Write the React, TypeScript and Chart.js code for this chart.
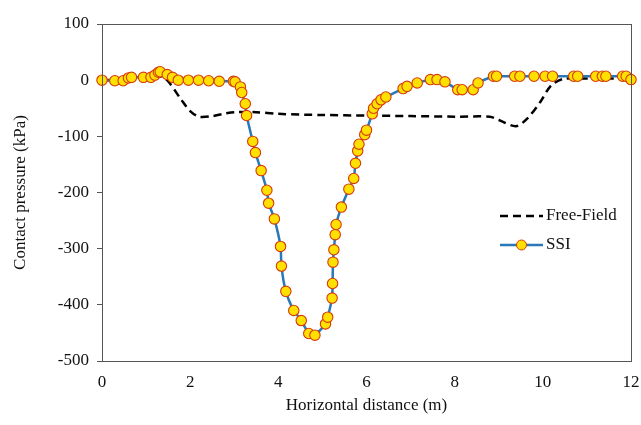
import React, { useEffect, useRef } from "react";
import { Chart, registerables } from "chart.js";

Chart.register(...registerables);

const xTickValues = [0, 2, 4, 6, 8, 10, 12];
const yTickValues = [100, 0, -100, -200, -300, -400, -500];

const ssiX = [
  0, 0.29, 0.48, 0.6, 0.67, 0.94, 1.11, 1.2, 1.28, 1.32, 1.48, 1.6, 1.73, 1.96, 2.19, 2.42, 2.66, 2.98, 3.02,
  3.14, 3.17, 3.25, 3.28, 3.42, 3.48, 3.61, 3.74, 3.78, 3.91, 4.05, 4.07, 4.17, 4.35, 4.52, 4.69, 4.83,
  5.07, 5.12, 5.22, 5.23, 5.24, 5.26, 5.29, 5.31, 5.43, 5.6, 5.71, 5.75, 5.8, 5.83, 5.96, 6.0, 6.13, 6.16,
  6.24, 6.33, 6.44, 6.83, 6.92, 7.15, 7.45, 7.6, 7.78, 8.07, 8.17, 8.42, 8.53, 8.88, 8.95, 9.36, 9.48, 9.8,
  10.05, 10.22, 10.7, 10.79, 11.2, 11.35, 11.43, 11.81, 11.89, 12.0,
];
const ssiY = [
  0, -1, -1, 4, 5, 5, 5, 9, 14, 15, 10, 5, 0, 0, 0, -1, -2, -2, -3,
  -12, -22, -42, -63, -109, -129, -161, -196, -219, -247, -296, -331, -376, -410, -428, -451, -454,
  -434, -422, -388, -362, -324, -302, -275, -257, -226, -194, -175, -148, -126, -114, -97, -89, -60, -50,
  -42, -35, -30, -15, -11, -5, 1, 1, -3, -17, -17, -17, -5, 7, 7, 7, 7, 7,
  7, 7, 7, 7, 7, 7, 7, 7, 7, 1,
];

const ffX = [0, 0.5, 0.9, 1.2, 1.35, 1.5, 1.8, 2.0, 2.2, 2.5, 2.75, 3.0, 3.5, 4.0, 5.0, 6.0, 7.0, 8.0, 8.8, 9.0, 9.39, 9.65, 9.95, 10.18, 10.45, 10.9, 11.5, 12.0];
const ffY = [0, 1, 2, 5, 6, -2, -35, -55, -65, -64, -60, -57, -57, -60, -62, -63, -64, -65, -65, -71, -82, -68, -38, -10, 2, 3, 3, 3];

const seriesNames = ["Free-Field", "SSI"];

const FONT = '"Liberation Serif", "Times New Roman", serif';
const BLUE = "#2A78B8";
const MARK_FILL = "#FFE000";
const MARK_EDGE = "#D63A0A";
const AXIS = "#555555";

const framePlugin = {
  id: "frame",
  afterDatasetsDraw(chart: any) {
    const { ctx, chartArea } = chart;
    ctx.save();
    ctx.strokeStyle = AXIS;
    ctx.lineWidth = 1;
    ctx.strokeRect(chartArea.left + 0.5, chartArea.top + 0.5, chartArea.right - chartArea.left, chartArea.bottom - chartArea.top);
    ctx.restore();
  },
  afterDraw(chart: any) {
    const { ctx, chartArea } = chart;
    const x0 = chartArea.right - 131;
    const x1 = chartArea.right - 88;
    const tx = chartArea.right - 85;
    const y1 = 216;
    const y2 = 245;
    ctx.save();
    ctx.font = `17px ${FONT}`;
    ctx.textBaseline = "middle";
    ctx.textAlign = "left";
    // Free-Field
    ctx.strokeStyle = "#000";
    ctx.lineWidth = 2.5;
    ctx.setLineDash([8, 5]);
    ctx.beginPath();
    ctx.moveTo(x0, y1);
    ctx.lineTo(x1, y1);
    ctx.stroke();
    ctx.setLineDash([]);
    ctx.fillStyle = "#111";
    ctx.fillText(seriesNames[0], tx, y1);
    // SSI
    ctx.strokeStyle = BLUE;
    ctx.lineWidth = 2.5;
    ctx.beginPath();
    ctx.moveTo(x0, y2);
    ctx.lineTo(x1, y2);
    ctx.stroke();
    ctx.beginPath();
    ctx.arc((x0 + x1) / 2, y2, 5, 0, Math.PI * 2);
    ctx.fillStyle = MARK_FILL;
    ctx.fill();
    ctx.lineWidth = 1;
    ctx.strokeStyle = MARK_EDGE;
    ctx.stroke();
    ctx.fillStyle = "#111";
    ctx.fillText(seriesNames[1], tx, y2);
    ctx.restore();
  },
};

export default function App() {
  const ref = useRef<HTMLCanvasElement | null>(null);

  useEffect(() => {
    document.body.style.margin = "0";
    if (!ref.current) return;
    const ffData = ffX.map((x, i) => ({ x, y: ffY[i] }));
    const ssiData = ssiX.map((x, i) => ({ x, y: ssiY[i] }));
    const chart = new Chart(ref.current, {
      type: "scatter",
      data: {
        datasets: [
          {
            label: seriesNames[0],
            data: ffData,
            showLine: true,
            borderColor: "#000",
            borderWidth: 2.5,
            borderDash: [8, 5],
            pointRadius: 0,
            tension: 0.3,
            clip: false,
            order: 2,
          } as any,
          {
            label: seriesNames[1],
            data: ssiData,
            showLine: true,
            borderColor: BLUE,
            borderWidth: 2.5,
            pointRadius: 5.2,
            pointBackgroundColor: MARK_FILL,
            pointBorderColor: MARK_EDGE,
            pointBorderWidth: 1.1,
            tension: 0.2,
            clip: false,
            order: 1,
          } as any,
        ],
      },
      options: {
        responsive: false,
        animation: false,
        layout: { padding: { top: 24, right: 0, left: 0, bottom: 0 } },
        plugins: {
          legend: { display: false },
          tooltip: { enabled: false },
        },
        scales: {
          x: {
            type: "linear",
            min: 0,
            max: 12,
            afterBuildTicks: (scale: any) => {
              scale.ticks = xTickValues.map((v) => ({ value: v }));
            },
            grid: { display: false, drawTicks: false },
            border: { display: true, color: AXIS },
            ticks: { color: "#111", font: { family: FONT, size: 17 }, padding: 11, maxRotation: 0 },
            title: {
              display: true,
              text: "Horizontal distance (m)",
              color: "#111",
              font: { family: FONT, size: 17 },
              padding: { top: 0, bottom: 9 },
            },
            afterFit: (scale: any) => {
              scale.height = 64;
              scale.paddingRight = 10;
            },
          },
          y: {
            type: "linear",
            min: -500,
            max: 100,
            afterBuildTicks: (scale: any) => {
              scale.ticks = yTickValues.map((v) => ({ value: v }));
            },
            grid: { drawOnChartArea: false, drawTicks: true, tickLength: 5, color: AXIS },
            border: { display: true, color: AXIS },
            ticks: { color: "#111", font: { family: FONT, size: 17 }, padding: 8 },
            title: {
              display: true,
              text: "Contact pressure (kPa)",
              color: "#111",
              font: { family: FONT, size: 17 },
              padding: { top: 10, bottom: 0 },
            },
            afterFit: (scale: any) => {
              scale.width = 102;
            },
          },
        },
      } as any,
      plugins: [framePlugin],
    });
    return () => chart.destroy();
  }, []);

  return (
    <div style={{ width: 641, height: 425, background: "#fff" }}>
      <canvas ref={ref} width={641} height={425} style={{ display: "block" }} />
    </div>
  );
}
